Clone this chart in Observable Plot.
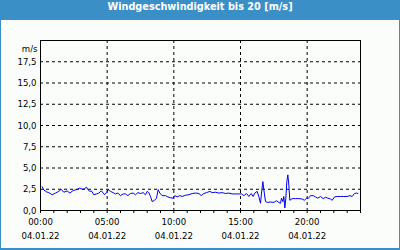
<!DOCTYPE html>
<html>
<head>
<meta charset="utf-8">
<script src="https://cdn.jsdelivr.net/npm/d3@7"></script>
<script src="https://cdn.jsdelivr.net/npm/@observablehq/plot@0.6"></script>
<style>
  html, body { margin: 0; padding: 0; background: #fbfdfb; }
  #wrap { position: relative; width: 400px; height: 250px; background: #3b8fc7; overflow: hidden; }
  #inner { position: absolute; left: 1px; top: 20px; width: 398px; height: 228px; background: #fbfdfb; }
  #title { position: absolute; left: 0; top: 0; width: 400px; height: 20px; line-height: 20px; text-align: center;
           color: #fff; font: bold 10.8px "DejaVu Sans Condensed", "DejaVu Sans", sans-serif; }
  #chart { position: absolute; left: 0; top: 0; }
</style>
</head>
<body>
<div id="wrap">
  <div id="inner"></div>
  <div id="title">Windgeschwindigkeit bis 20 [m/s]</div>
  <div id="chart"></div>
</div>
<script>
const title = "Windgeschwindigkeit bis 20 [m/s]";
const dayLabel = "04.01.22";
const unitLabel = "m/s";
const yTickValues = [0, 2.5, 5, 7.5, 10, 12.5, 15, 17.5];
const yGridValues = [2.5, 5, 7.5, 10, 12.5, 15, 17.5];
const labelHours = [0, 5, 10, 15, 20];
const gridHours = [5, 10, 15, 20];
const minorHours = [0,1,2,3,4,5,6,7,8,9,10,11,12,13,14,15,16,17,18,19,20,21,22,23,24];

// time of day in hours, wind speed in m/s
const hours = [0.125,0.25,0.45,0.625,0.875,1.125,1.375,1.55,1.75,2.0,2.2,2.45,2.7,2.95,3.125,3.3,3.45,3.55,3.7,3.825,4.0,4.2,4.375,4.55,4.7,4.8,4.95,5.075,5.25,5.45,5.625,5.8,6.0,6.2,6.375,6.55,6.75,6.95,7.125,7.3,7.5,7.7,7.875,8.0,8.125,8.25,8.375,8.55,8.7,8.825,8.95,9.125,9.375,9.55,9.75,9.95,10.075,10.25,10.45,10.625,10.875,11.125,11.375,11.625,11.875,12.05,12.25,12.45,12.7,12.875,13.125,13.375,13.625,13.875,14.125,14.375,14.625,14.875,15.075,15.25,15.45,15.625,15.8,15.95,16.075,16.25,16.375,16.5,16.575,16.675,16.75,16.875,17.05,17.25,17.5,17.7,17.875,18.0,18.075,18.175,18.25,18.325,18.4,18.475,18.55,18.625,18.7,18.875,19.125,19.375,19.625,19.8,19.95,20.075,20.25,20.45,20.625,20.8,21.0,21.2,21.375,21.55,21.75,21.875,22.05,22.25,22.5,22.75,23.0,23.2,23.375,23.55,23.7,23.8];
const speed = [2.8,2.4,2.2,2.1,1.85,2.05,2.25,2.5,2.15,2.3,2.05,2.35,2.45,2.65,2.5,2.55,2.75,2.45,2.25,2.3,1.85,1.95,2.05,2.3,2.1,1.85,2.1,2.45,2.25,2.1,1.95,2.05,1.75,1.95,1.95,1.75,2.0,2.05,1.85,2.1,2.0,2.1,1.85,2.25,2.1,1.65,1.05,1.2,1.45,2.45,2.05,1.75,1.75,1.6,1.5,1.45,1.75,1.6,1.75,1.65,1.8,1.85,2.0,2.05,2.0,1.75,2.0,2.1,2.25,2.1,2.15,2.05,2.1,2.0,2.05,1.95,1.95,1.95,1.95,1.75,2.0,1.65,2.0,1.65,2.05,2.25,1.65,0.85,2.05,3.4,2.45,1.05,0.95,1.0,0.95,1.15,0.95,0.85,1.45,1.05,1.65,0.3,1.45,3.4,4.2,3.0,1.2,1.4,1.4,1.4,1.35,1.2,1.45,1.4,1.75,1.75,1.6,1.45,1.65,1.4,1.55,1.45,1.35,1.2,1.6,1.65,1.65,1.65,1.65,1.75,1.65,2.0,2.05,2.0];

const day0 = Date.UTC(2022, 0, 4);
const toDate = h => new Date(day0 + h * 3600e3);
const data = hours.map((h, i) => ({t: toDate(h), v: speed[i]}));
const fmtY = d => d.toFixed(1).replace(".", ",");
const fmtT = h => String(h).padStart(2, "0") + ":00";

const chart = Plot.plot({
  width: 400,
  height: 250,
  marginTop: 40,
  marginLeft: 40,
  marginRight: 40,
  marginBottom: 40,
  style: {background: "transparent", fontFamily: "'DejaVu Sans Condensed', 'DejaVu Sans', sans-serif", fontSize: "9.5px", color: "#000"},
  x: {type: "utc", domain: [toDate(0), toDate(24)], axis: null, label: null},
  y: {domain: [0, 20], axis: null, label: null},
  marks: [
    Plot.ruleY(yGridValues, {stroke: "#000", strokeOpacity: 1, strokeDasharray: "3,3"}),
    Plot.ruleX(gridHours.map(toDate), {stroke: "#000", strokeOpacity: 1, strokeDasharray: "3,3"}),
    Plot.line(data, {x: "t", y: "v", stroke: "#0000f0", strokeWidth: 1}),
    Plot.frame({stroke: "#000", strokeOpacity: 1}),
    Plot.axisX({ticks: minorHours.map(toDate), tickSize: 3, tickFormat: () => "", strokeOpacity: 1, label: null}),
    Plot.text(labelHours, {x: toDate, frameAnchor: "bottom", dy: 14, text: fmtT, fill: "#000"}),
    Plot.text(labelHours, {x: toDate, frameAnchor: "bottom", dy: 28, text: () => dayLabel, fill: "#000"}),
    Plot.axisY({ticks: yTickValues, tickSize: 0, tickPadding: 4, tickFormat: fmtY, fill: "#000", label: null}),
    Plot.text([unitLabel], {frameAnchor: "top-left", dx: -3, dy: 5, textAnchor: "end", text: d => d, fill: "#000"})
  ]
});
document.getElementById("chart").appendChild(chart);
</script>
</body>
</html>
